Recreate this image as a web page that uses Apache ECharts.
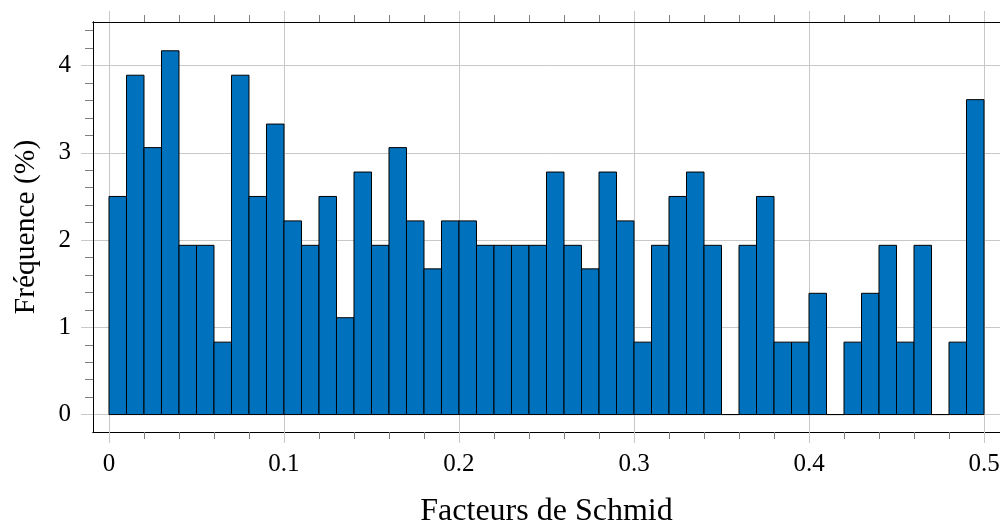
<!DOCTYPE html>
<html>
<head>
<meta charset="utf-8">
<script src="https://cdn.jsdelivr.net/npm/echarts@6/dist/echarts.min.js"></script>
<style>
html,body{margin:0;padding:0;background:#fff;}
#chart{width:1000px;height:523px;}
</style>
</head>
<body>
<div id="chart"></div>
<script>
// Bin edges (Schmid factor) and frequency (%) per bin
const binLeft  = [0.00,0.01,0.02,0.03,0.04,0.05,0.06,0.07,0.08,0.09,
                  0.10,0.11,0.12,0.13,0.14,0.15,0.16,0.17,0.18,0.19,
                  0.20,0.21,0.22,0.23,0.24,0.25,0.26,0.27,0.28,0.29,
                  0.30,0.31,0.32,0.33,0.34,0.35,0.36,0.37,0.38,0.39,
                  0.40,0.41,0.42,0.43,0.44,0.45,0.46,0.47,0.48,0.49];
const binRight = [0.01,0.02,0.03,0.04,0.05,0.06,0.07,0.08,0.09,0.10,
                  0.11,0.12,0.13,0.14,0.15,0.16,0.17,0.18,0.19,0.20,
                  0.21,0.22,0.23,0.24,0.25,0.26,0.27,0.28,0.29,0.30,
                  0.31,0.32,0.33,0.34,0.35,0.36,0.37,0.38,0.39,0.40,
                  0.41,0.42,0.43,0.44,0.45,0.46,0.47,0.48,0.49,0.50];
const frequency = [2.50,3.89,3.06,4.17,1.94,1.94,0.83,3.89,2.50,3.33,
                   2.22,1.94,2.50,1.11,2.78,1.94,3.06,2.22,1.67,2.22,
                   2.22,1.94,1.94,1.94,1.94,2.78,1.94,1.67,2.78,2.22,
                   0.83,1.94,2.50,2.78,1.94,0.00,1.94,2.50,0.83,0.83,
                   1.39,0.00,0.83,1.39,1.94,0.83,1.94,0.00,0.83,3.61];
const xMajorTicks = [0, 0.1, 0.2, 0.3, 0.4, 0.5];
const xMinorTicks = [0.02,0.04,0.06,0.08,0.12,0.14,0.16,0.18,0.22,0.24,0.26,0.28,
                     0.32,0.34,0.36,0.38,0.42,0.44,0.46,0.48];
const yMajorTicks = [0, 1, 2, 3, 4];
const yMinorTicks = [0.2,0.4,0.6,0.8,1.2,1.4,1.6,1.8,2.2,2.4,2.6,2.8,3.2,3.4,3.6,3.8,4.2,4.4];
const xTitle = 'Facteurs de Schmid';
const yTitle = 'Fréquence (%)';

const X_MIN = -0.00914, X_MAX = 0.50914, Y_MIN = -0.2, Y_MAX = 4.5;
const FONT = 'Liberation Serif';
const GRID_COLOR = '#c8c8c8';
const MINOR_COLOR = '#808080';

const data = binLeft.map((l, i) => [l, binRight[i], frequency[i]]);

function xAxisDef(pos, major, opts) {
  return Object.assign({
    type: 'value', gridIndex: 0, position: pos, min: X_MIN, max: X_MAX,
    axisLine: { show: true, onZero: false, lineStyle: { color: '#000', width: 1 } },
    axisTick: major
      ? { show: true, inside: false, length: 11, customValues: xMajorTicks, lineStyle: { color: GRID_COLOR, width: 1 } }
      : { show: true, inside: false, length: 7, customValues: xMinorTicks, lineStyle: { color: MINOR_COLOR, width: 1 } },
    axisLabel: { show: false },
    splitLine: { show: false }
  }, opts || {});
}
function yAxisDef(major, opts) {
  return Object.assign({
    type: 'value', gridIndex: 0, position: 'left', min: Y_MIN, max: Y_MAX,
    axisLine: { show: true, onZero: false, lineStyle: { color: '#000', width: 1 } },
    axisTick: major
      ? { show: true, inside: false, length: 12, customValues: yMajorTicks, lineStyle: { color: GRID_COLOR, width: 1 } }
      : { show: true, inside: false, length: 8, customValues: yMinorTicks, lineStyle: { color: MINOR_COLOR, width: 1 } },
    axisLabel: { show: false },
    splitLine: { show: false }
  }, opts || {});
}

const option = {
  animation: false,
  backgroundColor: '#fff',
  grid: { left: 93, right: 0, top: 22, bottom: 91, containLabel: false, outerBoundsMode: 'none' },
  xAxis: [
    xAxisDef('bottom', true, {
      name: xTitle, nameLocation: 'middle', nameGap: 64,
      nameTextStyle: { fontFamily: FONT, fontSize: 32, color: '#000' },
      axisLabel: { show: true, customValues: xMajorTicks, margin: 20, fontFamily: FONT, fontSize: 25, color: '#000',
                   formatter: v => String(v) },
      splitLine: { show: true, lineStyle: { color: GRID_COLOR, width: 1 } }
    }),
    xAxisDef('bottom', false),
    xAxisDef('top', true),
    xAxisDef('top', false)
  ],
  yAxis: [
    yAxisDef(true, {
      name: yTitle, nameLocation: 'middle', nameGap: 52,
      nameTextStyle: { fontFamily: FONT, fontSize: 29.5, color: '#000' },
      axisLabel: { show: true, customValues: yMajorTicks, margin: 22, fontFamily: FONT, fontSize: 25, color: '#000',
                   formatter: v => String(v) },
      splitLine: { show: true, lineStyle: { color: GRID_COLOR, width: 1 } }
    }),
    yAxisDef(false)
  ],
  series: [{
    type: 'custom',
    xAxisIndex: 0, yAxisIndex: 0,
    encode: { x: [0, 1], y: 2 },
    data: data,
    renderItem: function (params, api) {
      const p0 = api.coord([api.value(0), api.value(2)]);
      const p1 = api.coord([api.value(1), 0]);
      return {
        type: 'rect',
        shape: { x: p0[0], y: p0[1], width: p1[0] - p0[0], height: p1[1] - p0[1] },
        style: { fill: '#0072bd', stroke: '#000', lineWidth: 1 }
      };
    }
  }]
};

const chart = echarts.init(document.getElementById('chart'), null, { renderer: 'canvas' });
chart.setOption(option);
</script>
</body>
</html>
